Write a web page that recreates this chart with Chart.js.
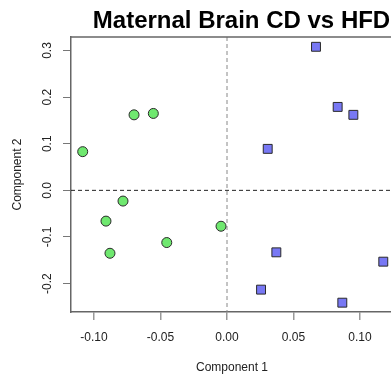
<!DOCTYPE html>
<html>
<head>
<meta charset="utf-8">
<script src="https://cdn.jsdelivr.net/npm/chart.js@4/dist/chart.umd.min.js"></script>
<style>
  html, body { margin: 0; padding: 0; background: #fff; overflow: hidden; }
  #wrap { width: 391px; height: 383px; }
</style>
</head>
<body>
<div id="wrap"><canvas id="c"></canvas></div>
<script>
// PCA scores, component 1 vs component 2
const cdX  = [-0.0699, -0.0554, -0.1085, -0.0782, -0.0910, -0.0045, -0.0453, -0.0880];
const cdY  = [ 0.162,   0.165,   0.083,  -0.023,  -0.066,  -0.077,  -0.112,  -0.135];
const hfdX = [ 0.0669,  0.0832,  0.0950,  0.0306,  0.0371,  0.1175,  0.0256,  0.0867];
const hfdY = [ 0.308,   0.179,   0.162,   0.089,  -0.133,  -0.153,  -0.213,  -0.241];

const xTicks = [-0.10, -0.05, 0.00, 0.05, 0.10];
const xTickLabels = ['-0.10', '-0.05', '0.00', '0.05', '0.10'];
const yTicks = [-0.2, -0.1, 0.0, 0.1, 0.2, 0.3];
const yTickLabels = ['-0.2', '-0.1', '0.0', '0.1', '0.2', '0.3'];

const titleText = 'Maternal Brain CD vs HFD';
const xTitle = 'Component 1';
const yTitle = 'Component 2';

const FONT = '"Liberation Sans", Arial, sans-serif';

function pts(xs, ys) {
  return xs.map((x, i) => ({ x, y: ys[i] }));
}

// box, zero lines and all the text, R style
const decor = {
  id: 'decor',
  beforeDatasetsDraw(chart) {
    const { ctx, chartArea: a, scales: { x, y } } = chart;
    const x0 = x.getPixelForValue(0);
    const y0 = y.getPixelForValue(0);
    ctx.save();
    ctx.lineWidth = 1;
    ctx.setLineDash([4, 3]);
    ctx.strokeStyle = '#888';
    ctx.beginPath();
    ctx.moveTo(x0, a.top); ctx.lineTo(x0, a.bottom);
    ctx.stroke();
    ctx.strokeStyle = '#222';
    ctx.beginPath();
    ctx.moveTo(a.left, y0); ctx.lineTo(a.right, y0);
    ctx.stroke();
    ctx.restore();
  },
  afterDraw(chart) {
    const { ctx, chartArea: a, scales: { x, y } } = chart;
    ctx.save();
    // top edge of the box
    ctx.strokeStyle = '#666';
    ctx.lineWidth = 1.5;
    ctx.beginPath();
    ctx.moveTo(a.left, a.top); ctx.lineTo(a.right, a.top);
    ctx.stroke();

    ctx.fillStyle = '#000';
    ctx.font = 'bold 24px ' + FONT;
    ctx.textAlign = 'center';
    ctx.textBaseline = 'alphabetic';
    ctx.fillText(titleText, 241.5, 28);

    ctx.fillStyle = '#222';
    ctx.font = '12px ' + FONT;
    ctx.textBaseline = 'middle';
    xTicks.forEach((v, i) => ctx.fillText(xTickLabels[i], x.getPixelForValue(v), 338));
    ctx.fillText(xTitle, 232, 368);

    yTicks.forEach((v, i) => {
      ctx.save();
      ctx.translate(48, y.getPixelForValue(v));
      ctx.rotate(-Math.PI / 2);
      ctx.fillText(yTickLabels[i], 0, 0);
      ctx.restore();
    });
    ctx.save();
    ctx.translate(18, (a.top + a.bottom) / 2);
    ctx.rotate(-Math.PI / 2);
    ctx.fillText(yTitle, 0, 0);
    ctx.restore();
    ctx.restore();
  }
};

new Chart(document.getElementById('c'), {
  type: 'scatter',
  data: {
    datasets: [
      {
        label: 'CD',
        data: pts(cdX, cdY),
        pointStyle: 'circle',
        radius: 5,
        backgroundColor: '#6FE86F',
        borderColor: '#2a2a2a',
        borderWidth: 1
      },
      {
        label: 'HFD',
        data: pts(hfdX, hfdY),
        pointStyle: 'rect',
        radius: 6.3,
        backgroundColor: '#7878F4',
        borderColor: '#2a2a2a',
        borderWidth: 1
      }
    ]
  },
  options: {
    responsive: true,
    maintainAspectRatio: false,
    animation: false,
    clip: false,
    layout: { autoPadding: false, padding: { top: 37, left: 0, right: 0, bottom: 0 } },
    plugins: {
      legend: { display: false },
      tooltip: { enabled: false },
      title: { display: false }
    },
    scales: {
      x: {
        type: 'linear',
        min: -0.1173,
        max: 0.1233,
        afterBuildTicks: s => { s.ticks = xTicks.map(v => ({ value: v })); },
        afterFit: s => { s.height = 71; s.paddingLeft = 0; s.paddingRight = 0; },
        ticks: { display: false },
        grid: { drawOnChartArea: false, drawTicks: true, tickLength: 8, color: '#999', lineWidth: 1.5 },
        border: { display: true, color: '#666', width: 1.5 }
      },
      y: {
        type: 'linear',
        min: -0.261,
        max: 0.329,
        afterBuildTicks: s => { s.ticks = yTicks.map(v => ({ value: v })); },
        afterFit: s => { s.width = 71; s.paddingTop = 0; s.paddingBottom = 0; },
        ticks: { display: false },
        grid: { drawOnChartArea: false, drawTicks: true, tickLength: 8, color: '#777', lineWidth: 1 },
        border: { display: true, color: '#666', width: 1.5 }
      }
    }
  },
  plugins: [decor]
});
</script>
</body>
</html>
